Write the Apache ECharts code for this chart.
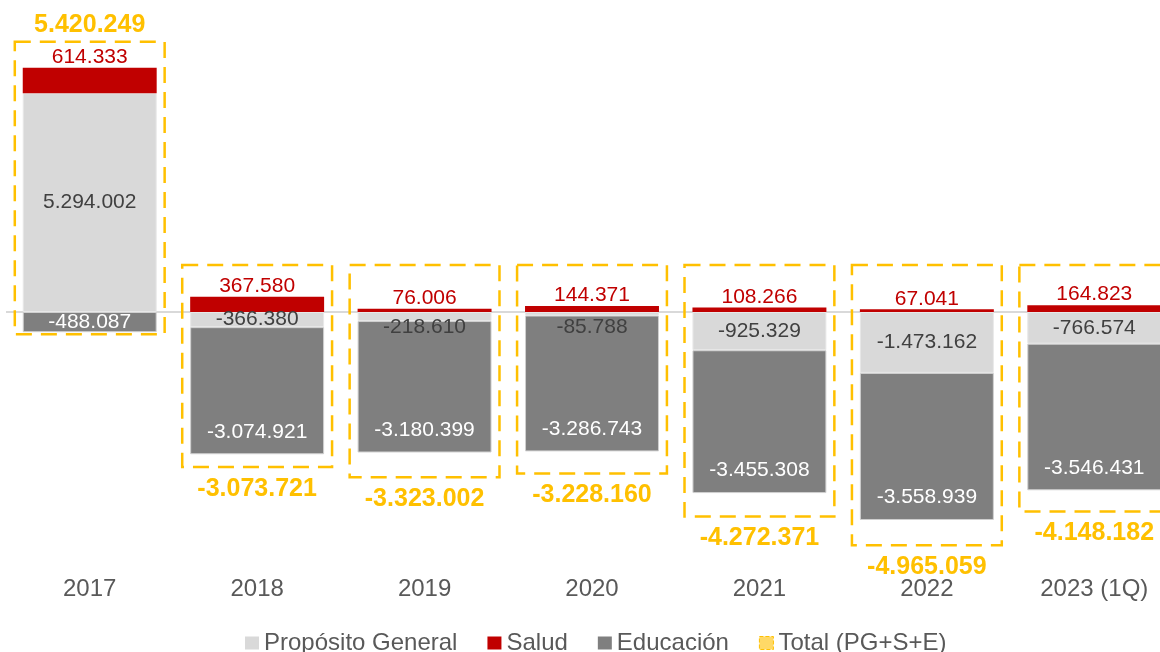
<!DOCTYPE html>
<html>
<head>
<meta charset="utf-8">
<script src="https://cdn.jsdelivr.net/npm/echarts@6/dist/echarts.min.js"></script>
<style>
  html, body { margin: 0; padding: 0; background: #fff; }
  #chart { width: 1160px; height: 652px; }
</style>
</head>
<body>
<div id="chart"></div>
<script>
const years = ['2017', '2018', '2019', '2020', '2021', '2022', '2023 (1Q)']
const proposito = [5294002, -366380, -218610, -85788, -925329, -1473162, -766574]
const salud = [614333, 367580, 76006, 144371, 108266, 67041, 164823]
const educacion = [-488087, -3074921, -3180399, -3286743, -3455308, -3558939, -3546431]
const total = [5420249, -3073721, -3323002, -3228160, -4272371, -4965059, -4148182]

const FONT = '"Liberation Sans", Arial, sans-serif'

function fmt (v) {
  const s = Math.abs(Math.round(v)).toString().replace(/\B(?=(\d{3})+(?!\d))/g, '.')
  return (v < 0 ? '-' : '') + s
}

// extent of each stacked column, used by the dashed total box
const boxData = years.map((y, i) => {
  const parts = [proposito[i], salud[i], educacion[i]]
  const pos = parts.filter(v => v > 0).reduce((a, b) => a + b, 0)
  const neg = parts.filter(v => v < 0).reduce((a, b) => a + b, 0)
  return [i, pos, neg, total[i]]
})

const chart = echarts.init(document.getElementById('chart'))

const option = {
  animation: false,
  textStyle: { fontFamily: FONT },
  // the last column runs past the right edge in the original
  grid: { left: 6, top: 64, width: 1172, height: 496, outerBoundsMode: 'none', containLabel: false },
  legend: {
    left: 240,
    top: 626,
    itemWidth: 14,
    itemHeight: 13,
    itemGap: 30,
    textStyle: { fontSize: 24, color: '#595959', fontFamily: FONT },
    data: [
      { name: 'Propósito General', icon: 'rect', itemStyle: { borderWidth: 0 } },
      { name: 'Salud', icon: 'rect', itemStyle: { borderWidth: 0 } },
      { name: 'Educación', icon: 'rect', itemStyle: { borderWidth: 0 } },
      {
        name: 'Total (PG+S+E)',
        icon: 'rect',
        itemStyle: { color: '#ffd966', borderColor: '#ffc000', borderWidth: 1, borderType: 'dashed' }
      }
    ]
  },
  xAxis: {
    type: 'category',
    data: years,
    position: 'bottom',
    axisLine: { show: false },
    axisTick: { show: false },
    axisLabel: { fontSize: 24, color: '#595959', margin: 17, fontFamily: FONT }
  },
  yAxis: {
    type: 'value',
    min: -6000000,
    max: 6000000,
    interval: 6000000,
    axisLine: { show: false },
    axisTick: { show: false },
    axisLabel: { show: false },
    // only the zero line is kept
    splitLine: {
      show: true,
      showMinLine: false,
      showMaxLine: false,
      lineStyle: { color: '#d9d9d9', width: 2 }
    }
  },
  series: [
    {
      name: 'Propósito General',
      type: 'bar',
      stack: 'a',
      barWidth: '80%',
      itemStyle: { color: '#d9d9d9', borderColor: '#e8e8e8', borderWidth: 1 },
      label: {
        show: true,
        position: 'inside',
        color: '#404040',
        fontSize: 21,
        formatter: p => fmt(p.value)
      },
      data: proposito.map(v => Math.abs(v) < 300000
        ? { value: v, label: { position: 'insideTop', distance: 5 } }
        : v)
    },
    {
      name: 'Salud',
      type: 'bar',
      stack: 'a',
      barWidth: '80%',
      itemStyle: { color: '#c00000' },
      label: {
        show: true,
        position: 'top',
        distance: 0,
        color: '#c00000',
        fontSize: 21,
        formatter: p => fmt(p.value)
      },
      data: salud
    },
    {
      name: 'Educación',
      type: 'bar',
      stack: 'a',
      barWidth: '80%',
      itemStyle: { color: '#7f7f7f', borderColor: '#d0d0d0', borderWidth: 1 },
      label: {
        show: true,
        position: 'insideBottom',
        distance: 12,
        color: '#ffffff',
        fontSize: 21,
        formatter: p => fmt(p.value)
      },
      data: educacion.map((v, i) => i === 0 ? { value: v, label: { position: 'inside' } } : v)
    },
    {
      name: 'Total (PG+S+E)',
      type: 'custom',
      itemStyle: { color: '#ffc000' },
      encode: { x: 0, y: [1, 2] },
      z: 5,
      renderItem (params, api) {
        const i = api.value(0)
        const t = api.value(3)
        const top = api.coord([i, api.value(1)])
        const bottom = api.coord([i, api.value(2)])
        const zero = api.coord([i, 0])
        const tot = api.coord([i, t])
        const w = api.size([1, 0])[0] * 0.895
        const y1 = Math.min(top[1] - 26, zero[1] - 47)
        const y2 = t < 0 ? Math.max(bottom[1] + 2, tot[1] + 28) : bottom[1] + 2
        const labelY = t < 0 ? y2 + 22 : y1 - 17
        return {
          type: 'group',
          children: [
            {
              type: 'rect',
              shape: { x: top[0] - w / 2, y: y1, width: w, height: y2 - y1 },
              style: { fill: 'none', stroke: '#ffc000', lineWidth: 2.5, lineDash: [16, 9] }
            },
            {
              type: 'text',
              style: {
                text: fmt(t),
                x: top[0],
                y: labelY,
                fill: '#ffc000',
                fontSize: 25,
                fontWeight: 'bold',
                fontFamily: FONT,
                align: 'center',
                verticalAlign: 'middle'
              }
            }
          ]
        }
      },
      data: boxData
    }
  ]
}

chart.setOption(option)
</script>
</body>
</html>
